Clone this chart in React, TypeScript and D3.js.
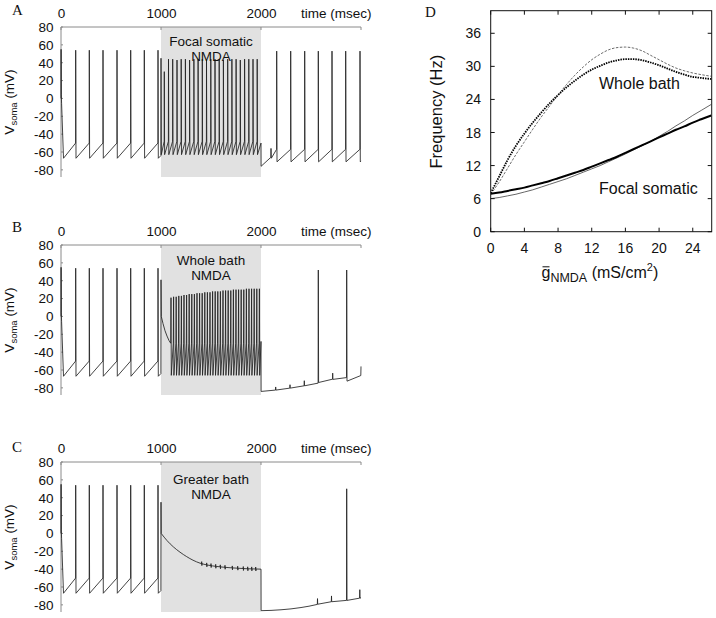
import React from "react";
import * as d3 from "d3";

type Pt = [number, number];

// ---------- tick labels ----------
const timeTickValues = [0, 1000, 2000];
const timeTickLabels = ["0", "1000", "2000"];
const voltTicks = [80, 60, 40, 20, 0, -20, -40, -60, -80];
const freqTicks = [0, 6, 12, 18, 24, 30, 36];
const gTicks = [0, 4, 8, 12, 16, 20, 24];

// ---------- common control period (0-1000 ms) ----------
const startPts: Pt[] = [[0, 0], [1, 55], [3, 4], [6, -6], [25, -67]];
const preSpikeTimes = [147, 283, 420, 560, 697, 833, 970];
const prePeak = 54;
const preThr = -50;
const preTrough = -67;
const preEnd: Pt = [999, -64];

// ---------- panel A: focal somatic NMDA ----------
const aNmdaTimes = [1000, 1033, 1075, 1117, 1160, 1202, 1244, 1286, 1329, 1371, 1413, 1455, 1498, 1540, 1582, 1624, 1667, 1709, 1751, 1793, 1836, 1878, 1920, 1962];
const aNmdaPeaks = [45, 30, 44, 44, 43, 44, 44, 43, 44, 44, 44, 43, 44, 44, 44, 43, 44, 44, 44, 43, 44, 44, 44, 44];
const aNmdaThr = -48;
const aNmdaTrough = -63;
const aPostLead: Pt[] = [[2000, -50], [2001, -76], [2098, -66], [2100, -56], [2103, -67]];
const aPostTimes = [2157, 2297, 2437, 2573, 2710, 2847, 2990];
const aPostPeak = 53;
const aPostThr = -57;
const aPostTrough = -71;
const aEnd: Pt = [3000, -70];

// ---------- panel B: whole bath NMDA ----------
const bOnsetPts: Pt[] = [[1000, 41], [1003, 0], [1020, -8], [1040, -16], [1060, -22], [1080, -27], [1097, -30]];
const bNmdaTimes = [1100, 1126, 1152, 1178, 1204, 1230, 1256, 1282, 1308, 1334, 1360, 1386, 1412, 1438, 1464, 1490, 1516, 1542, 1568, 1594, 1620, 1646, 1672, 1698, 1724, 1750, 1776, 1802, 1828, 1854, 1880, 1906, 1932, 1958, 1984];
const bNmdaPeaks = [21, 22, 22, 23, 23, 24, 24, 25, 25, 25, 26, 26, 26, 27, 27, 27, 28, 28, 28, 28, 29, 29, 29, 29, 30, 30, 30, 30, 30, 31, 31, 31, 31, 31, 31];
const bNmdaThr = -30;
const bNmdaTrough = -66;
const bPostPts: Pt[] = [[2000, -28], [2001, -84], [2145, -82.5], [2147, -79], [2149, -82.5], [2288, -80.3], [2290, -76.5], [2292, -80.3], [2431, -77.7], [2433, -72], [2435, -77.7], [2571, -74.7], [2573, 52], [2576, -74], [2715, -70.3], [2717, -63.5], [2719, -70.5], [2855, -68.5], [2857, 52], [2860, -72.5], [2998, -66.2], [3000, -56]];

// ---------- panel C: greater bath NMDA ----------
const cOnsetPts: Pt[] = [[1000, 35], [1002, 0]];
const cDecayPts: Pt[] = [[1002, 0], [1060, -8], [1123, -15], [1190, -21], [1257, -26], [1320, -30], [1390, -33.3], [1470, -35.5], [1557, -37], [1700, -38.5], [1850, -39.5], [2000, -40]];
const cWiggleTimes = [1407, 1457, 1500, 1547, 1593, 1640, 1713, 1767, 1823, 1867, 1907, 1947];
const cWiggleBase = [-33.8, -35.2, -36, -36.8, -37.4, -37.9, -38.6, -38.9, -39.3, -39.6, -39.7, -39.8];
const cDropPts: Pt[] = [[2000, -40], [2001, -86.5]];
const cPostCurve: Pt[] = [[2001, -86.5], [2100, -86.2], [2200, -85.5], [2300, -84.5], [2400, -83], [2480, -81.5], [2563, -79.5]];
const cPostPts: Pt[] = [[2563, -79.5], [2565, -73], [2567, -79.3], [2703, -76.5], [2705, -70], [2707, -76.5], [2855, -75], [2857, 50], [2860, -75], [2986, -72.5], [2988, -63], [2990, -72.5], [3000, -72]];

// ---------- panel D: frequency vs g_NMDA ----------
const gGrid = [0, 1, 2, 3, 4, 5, 6, 7, 8, 9, 10, 11, 12, 13, 14, 15, 16, 17, 18, 19, 20, 21, 22, 23, 24, 25, 26.2];
const wholeBathThick = [7.0, 10.0, 13.0, 15.6, 17.8, 19.8, 21.6, 23.3, 24.8, 26.2, 27.4, 28.5, 29.4, 30.1, 30.7, 31.1, 31.3, 31.3, 31.1, 30.7, 30.2, 29.6, 29.0, 28.5, 28.1, 27.9, 27.7];
const wholeBathThin = [6.8, 9.0, 11.5, 14.0, 16.3, 18.6, 20.8, 22.8, 24.8, 26.7, 28.4, 29.9, 31.2, 32.2, 33.0, 33.4, 33.5, 33.3, 32.8, 32.0, 31.2, 30.4, 29.7, 29.2, 28.8, 28.5, 28.2];
const focalThick = [6.9, 7.1, 7.4, 7.7, 8.0, 8.4, 8.8, 9.2, 9.7, 10.2, 10.7, 11.2, 11.8, 12.4, 13.0, 13.6, 14.3, 15.0, 15.7, 16.4, 17.1, 17.8, 18.5, 19.1, 19.8, 20.4, 21.1];
const focalThin = [6.0, 6.2, 6.5, 6.8, 7.2, 7.6, 8.1, 8.6, 9.1, 9.6, 10.2, 10.8, 11.4, 12.0, 12.7, 13.4, 14.1, 14.9, 15.6, 16.4, 17.3, 18.2, 19.2, 20.1, 21.1, 22.0, 23.1];

// ---------- helpers ----------
function spikeTrain(times: number[], peaks: number[] | number, thr: number, trough: number, rise: number, fall: number, skipFirst = false): Pt[] {
  const pts: Pt[] = [];
  times.forEach((t, i) => {
    const p = Array.isArray(peaks) ? peaks[i] : peaks;
    if (!(skipFirst && i === 0)) pts.push([t - rise, thr]);
    pts.push([t, p]);
    pts.push([t + fall, trough]);
  });
  return pts;
}

const prePts: Pt[] = [...startPts, ...spikeTrain(preSpikeTimes, prePeak, preThr, preTrough, 1, 3), preEnd];

type Piece = { pts: Pt[]; smooth?: boolean };

const traceA: Piece[] = [
  {
    pts: [
      ...prePts,
      ...spikeTrain(aNmdaTimes, aNmdaPeaks, aNmdaThr, aNmdaTrough, 1, 3, true),
      ...aPostLead,
      ...spikeTrain(aPostTimes, aPostPeak, aPostThr, aPostTrough, 1, 3),
      aEnd,
    ],
  },
];

const traceB: Piece[] = [
  {
    pts: [...prePts, ...bOnsetPts, ...spikeTrain(bNmdaTimes, bNmdaPeaks, bNmdaThr, bNmdaTrough, 3, 3, true), ...bPostPts],
  },
];

const traceC: Piece[] = [
  { pts: [...prePts, ...cOnsetPts] },
  { pts: cDecayPts, smooth: true },
  ...cWiggleTimes.map((t, i) => ({
    pts: [[t - 2, cWiggleBase[i]], [t, cWiggleBase[i] + 2.2], [t + 1.5, cWiggleBase[i] - 2.2], [t + 4, cWiggleBase[i]]] as Pt[],
  })),
  { pts: cDropPts },
  { pts: cPostCurve, smooth: true },
  { pts: cPostPts },
];

const SANS = "'Liberation Sans', Arial, Helvetica, sans-serif";
const SERIF = "'Liberation Serif', 'Times New Roman', serif";

function TracePanel({ top, letter, letterY, pieces, line1, line2, base1, base2 }: {
  top: number; letter: string; letterY: number; pieces: Piece[]; line1: string; line2: string; base1: number; base2: number;
}) {
  const x = d3.scaleLinear().domain([0, 3000]).range([61, 361]);
  const y = d3.scaleLinear().domain([-88, 80]).range([top + 150, top]);
  const lin = d3.line<Pt>().x((d) => x(d[0])).y((d) => y(d[1]));
  const smooth = d3.line<Pt>().x((d) => x(d[0])).y((d) => y(d[1])).curve(d3.curveMonotoneX);
  const axisColor = "#8a8a8a";
  return (
    <g>
      <rect x={x(1000)} y={y(80)} width={x(2000) - x(1000)} height={y(-88) - y(80)} fill="#e1e1e1" />
      <line x1={x(0)} x2={x(3000)} y1={y(80)} y2={y(80)} stroke={axisColor} strokeWidth={1} />
      <line x1={x(0)} x2={x(0)} y1={y(80)} y2={y(-88)} stroke={axisColor} strokeWidth={1} />
      {[0, 1000, 2000, 3000].map((t) => (
        <line key={t} x1={x(t)} x2={x(t)} y1={y(80)} y2={y(80) + 3} stroke={axisColor} strokeWidth={1} />
      ))}
      {voltTicks.map((v) => (
        <line key={"vt" + v} x1={x(0)} x2={x(0) + 2} y1={y(v)} y2={y(v)} stroke={axisColor} strokeWidth={1} />
      ))}
      {pieces.map((p, i) => (
        <path key={i} d={(p.smooth ? smooth : lin)(p.pts) || ""} fill="none" stroke="#222" strokeWidth={0.85} strokeLinejoin="round" />
      ))}
      {voltTicks.map((v) => (
        <text key={v} x={53.5} y={y(v)} dy="0.36em" textAnchor="end" fontFamily={SANS} fontSize={13.5} fill="#111">{v}</text>
      ))}
      {timeTickValues.map((t, i) => (
        <text key={t} x={x(t) + 0.5} y={top - 9} textAnchor="middle" fontFamily={SANS} fontSize={13.5} fill="#111">{timeTickLabels[i]}</text>
      ))}
      <text x={301} y={top - 9} fontFamily={SANS} fontSize={13.5} fill="#111">time (msec)</text>
      <text x={(x(1000) + x(2000)) / 2} y={base1} textAnchor="middle" fontFamily={SANS} fontSize={13.5} fill="#111">{line1}</text>
      <text x={(x(1000) + x(2000)) / 2} y={base2} textAnchor="middle" fontFamily={SANS} fontSize={13.5} fill="#111">{line2}</text>
      <text transform={`translate(13.5, ${top + 75}) rotate(-90)`} textAnchor="middle" fontFamily={SANS} fontSize={13.5} fill="#111">
        <tspan>V</tspan>
        <tspan fontSize={9.5} dy={3}>soma</tspan>
        <tspan dy={-3}> (mV)</tspan>
      </text>
      <text x={12} y={letterY} fontFamily={SERIF} fontSize={15} fill="#111">{letter}</text>
    </g>
  );
}

function FreqPanel() {
  const x = d3.scaleLinear().domain([0, 26.25]).range([490.7, 711.7]);
  const y = d3.scaleLinear().domain([0, 40.1]).range([231.7, 10.7]);
  const mk = (vals: number[]) =>
    d3.line<number>().x((_, i) => x(gGrid[i])).y((d) => y(d)).curve(d3.curveMonotoneX)(vals) || "";
  const L = x.range()[0], R = x.range()[1], T = y.range()[1], B = y.range()[0];
  const tl = 4;
  return (
    <g>
      <defs>
        <clipPath id="dclip">
          <rect x={L} y={T} width={R - L} height={B - T} />
        </clipPath>
      </defs>
      <g clipPath="url(#dclip)">
        <path d={mk(wholeBathThin)} fill="none" stroke="#444" strokeWidth={0.8} strokeDasharray="2.5,1.5" />
        <path d={mk(wholeBathThick)} fill="none" stroke="#000" strokeWidth={1.8} strokeDasharray="1.5,1" />
        <path d={mk(focalThin)} fill="none" stroke="#555" strokeWidth={0.9} />
        <path d={mk(focalThick)} fill="none" stroke="#000" strokeWidth={2} />
      </g>
      <rect x={L} y={T} width={R - L} height={B - T} fill="none" stroke="#111" strokeWidth={1} />
      {gTicks.map((g) => (
        <g key={"g" + g}>
          <line x1={x(g)} x2={x(g)} y1={B} y2={B - tl} stroke="#111" />
          <line x1={x(g)} x2={x(g)} y1={T} y2={T + tl} stroke="#111" />
          <text x={x(g)} y={253} textAnchor="middle" fontFamily={SANS} fontSize={14} fill="#111">{g}</text>
        </g>
      ))}
      {freqTicks.map((f) => (
        <g key={"f" + f}>
          <line x1={L} x2={L + tl} y1={y(f)} y2={y(f)} stroke="#111" />
          <line x1={R} x2={R - tl} y1={y(f)} y2={y(f)} stroke="#111" />
          <text x={481} y={y(f)} dy="0.36em" textAnchor="end" fontFamily={SANS} fontSize={14} fill="#111">{f}</text>
        </g>
      ))}
      <text x={599} y={89} fontFamily={SANS} fontSize={16} fill="#111">Whole bath</text>
      <text x={599} y={194} fontFamily={SANS} fontSize={16} fill="#111">Focal somatic</text>
      <text transform="translate(442, 111.7) rotate(-90)" textAnchor="middle" fontFamily={SANS} fontSize={16.5} fill="#111">Frequency (Hz)</text>
      <text x={541.5} y={278} fontFamily={SANS} fontSize={16} fill="#111">
        <tspan>g</tspan>
        <tspan fontSize={12.5} dy={4}>NMDA</tspan>
        <tspan dy={-4}> (mS/cm</tspan>
        <tspan fontSize={11} dy={-7}>2</tspan>
        <tspan dy={7}>)</tspan>
      </text>
      <line x1={542.5} x2={549.5} y1={266.8} y2={266.8} stroke="#111" strokeWidth={1} />
      <text x={425} y={17} fontFamily={SERIF} fontSize={15} fill="#111">D</text>
    </g>
  );
}

export default function App() {
  return (
    <svg width={716} height={618} viewBox="0 0 716 618" style={{ position: "absolute", left: 0, top: 0, background: "#fff" }}>
      <rect x={0} y={0} width={716} height={618} fill="#fff" />
      <TracePanel top={27} letter="A" letterY={15} pieces={traceA} line1="Focal somatic" line2="NMDA" base1={45.5} base2={61} />
      <TracePanel top={245} letter="B" letterY={232} pieces={traceB} line1="Whole bath" line2="NMDA" base1={264.5} base2={280} />
      <TracePanel top={462} letter="C" letterY={452} pieces={traceC} line1="Greater bath" line2="NMDA" base1={483.5} base2={499} />
      <FreqPanel />
    </svg>
  );
}
